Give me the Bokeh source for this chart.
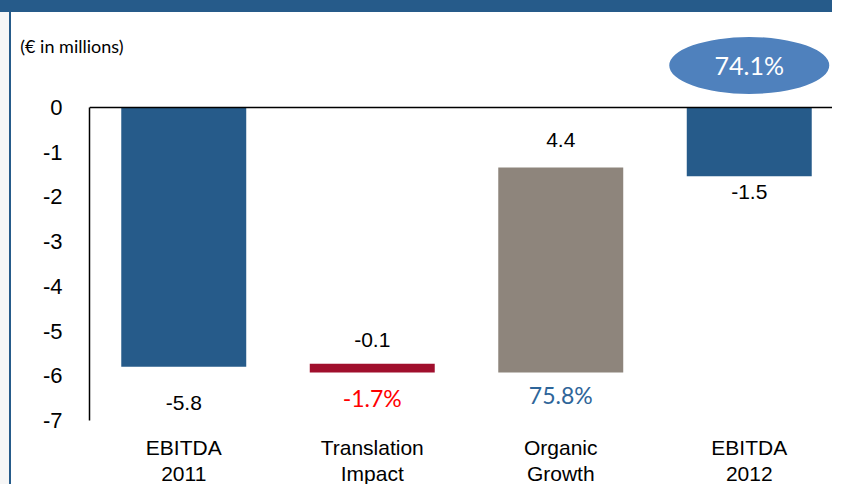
from bokeh.plotting import figure
from bokeh.models import ColumnDataSource, FactorRange, Range1d, FixedTicker, Span, LinearAxis
from bokeh.core.properties import value
from bokeh.embed import file_html
from bokeh.resources import INLINE

# ---- data ----
categories = ["EBITDA\n2011", "Translation\nImpact", "Organic\nGrowth", "EBITDA\n2012"]
bar_top = [0.0, -5.73, -1.34, 0.0]
bar_bottom = [-5.80, -5.93, -5.93, -1.54]
value_labels = ["-5.8", "-0.1", "4.4", "-1.5"]
pct_labels = ["", "-1.7%", "75.8%", ""]
total_change = "74.1%"
y_ticks = [0, -1, -2, -3, -4, -5, -6, -7]
unit_note = "(€ in millions)"

# ---- styles / layout ----
BLUE = "#265B8A"
bar_colors = [BLUE, "#A00F2D", "#8E857C", BLUE]
pct_colors = ["#FF0000", "#FF0000", "#2E6599", "#2E6599"]
value_anchor = ["bottom", "top", "top", "bottom"]
value_offset = [36, -24, -27, 16]
pct_offset = [0, 25, 22, 0]
side_bg = ("linear-gradient(to right, #F6F6F6 0px, #F6F6F6 9px, %s 9px, %s 11px, white 11px)"
           % (BLUE, BLUE))
NOTE_Y = 1.369
BUBBLE_Y = 0.94

p = figure(
    width=832, height=484,
    x_range=FactorRange(*categories),
    y_range=Range1d(-7.001, 2.1246),
    output_backend="svg", toolbar_location=None,
    min_border_left=78, min_border_right=0, min_border_top=0, min_border_bottom=76,
    outline_line_color=None,
    background_fill_color="white", border_fill_color="white",
)
p.styles = {"border-top": "12px solid " + BLUE, "padding-left": "11px", "background": side_bg}
p.grid.visible = False

# category axis
xa = p.xaxis[0]
xa.axis_line_color = None
xa.major_tick_line_color = None
xa.minor_tick_line_color = None
xa.major_label_standoff = 9
xa.major_label_text_font = "Liberation Sans"
xa.major_label_text_font_size = "21px"
xa.major_label_text_line_height = 1.15
xa.major_label_text_color = "black"

# value axis
ya = p.yaxis[0]
ya.ticker = FixedTicker(ticks=y_ticks)
ya.major_label_overrides = {t: str(t) for t in y_ticks}
ya.bounds = (min(y_ticks), max(y_ticks))
ya.axis_line_color = "black"
ya.axis_line_width = 1.5
ya.major_tick_line_color = None
ya.minor_tick_line_color = None
ya.major_label_standoff = 21
ya.major_label_text_font = "Liberation Sans"
ya.major_label_text_font_size = "22px"
ya.major_label_text_color = "black"

# unit note, carried by a second (line-less) left axis
note_axis = LinearAxis(
    ticker=FixedTicker(ticks=[NOTE_Y]),
    major_label_overrides={NOTE_Y: unit_note},
    major_label_standoff=-90,
    axis_line_color=None, major_tick_line_color=None, minor_tick_line_color=None,
    major_label_text_font="Lato", major_label_text_font_size="18px",
    major_label_text_color="black",
)
p.add_layout(note_axis, "left")

p.add_layout(Span(location=0, dimension="width", line_color="black", line_width=1.5))

src = ColumnDataSource(dict(cat=categories, top=bar_top, bottom=bar_bottom, color=bar_colors))
p.vbar(x="cat", top="top", bottom="bottom", width=0.663, fill_color="color",
       line_color=None, source=src)

vy = [bar_bottom[i] if value_anchor[i] == "bottom" else bar_top[i] for i in range(len(categories))]
vsrc = ColumnDataSource(dict(x=categories, y=vy, t=value_labels, off=value_offset))
p.text(x="x", y="y", text="t", y_offset="off", source=vsrc,
       text_font=value("Liberation Sans"), text_font_size="21px", text_color="black",
       text_align="center", text_baseline="middle")

idx = [i for i, t in enumerate(pct_labels) if t]
psrc = ColumnDataSource(dict(
    x=[categories[i] for i in idx], y=[bar_bottom[i] for i in idx],
    t=[pct_labels[i] for i in idx], off=[pct_offset[i] for i in idx],
    c=[pct_colors[i] for i in idx],
))
p.text(x="x", y="y", text="t", y_offset="off", text_color="c", source=psrc,
       text_font=value("Lato"), text_font_size="23px",
       text_align="center", text_baseline="middle")

# total change bubble
p.ellipse(x=[categories[-1]], y=[BUBBLE_Y], width=160, height=57,
          width_units="screen", height_units="screen",
          fill_color="#4F81BD", line_color=None)
p.text(x=[categories[-1]], y=[BUBBLE_Y], text=[total_change],
       text_font=value("Lato"), text_font_size="25px", text_color="white",
       text_align="center", text_baseline="middle")

open("out.html", "w").write(file_html(p, INLINE))
